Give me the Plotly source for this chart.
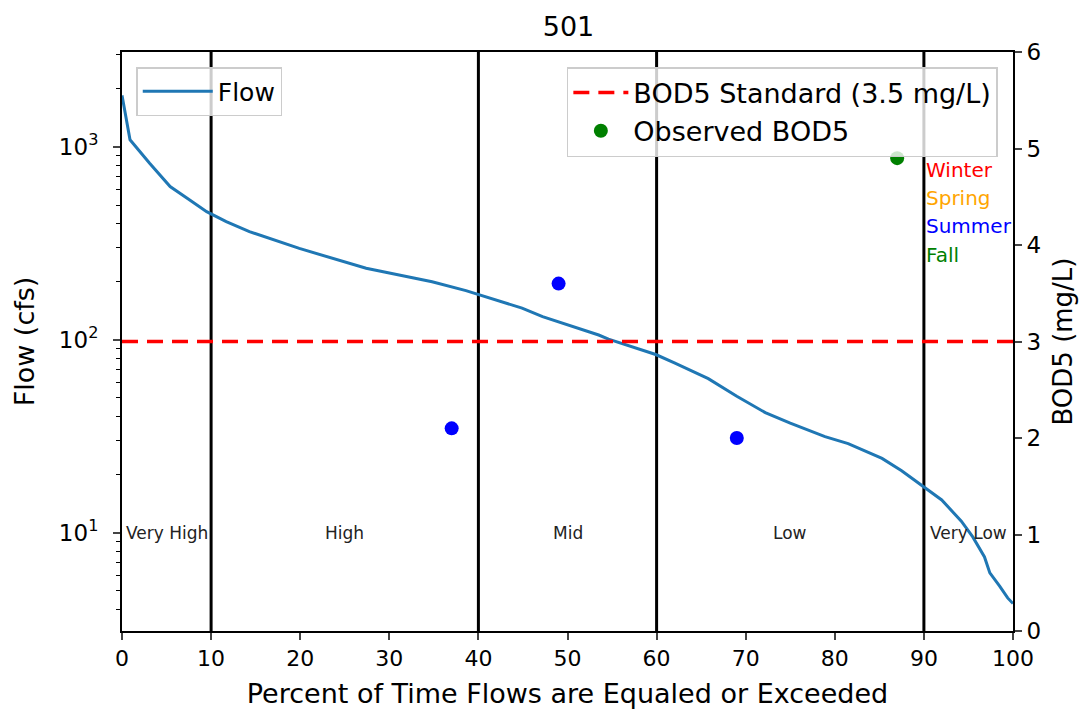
import plotly.graph_objects as go
import numpy as np

# ---- data ----
flow_pct = [0, 0.9, 3.1, 5.4, 7.6, 9.5, 11.7, 14.3, 19.9, 23.6, 27.4, 31.1, 34.8, 38.6, 40.0,
            44.9, 47.2, 49.0, 51.0, 53.5, 54.6, 57.0, 59.9, 62.0, 65.8, 69.0, 72.2, 75.0,
            78.9, 81.5, 85.3, 87.5, 89.4, 92.0, 94.2, 95.5, 96.8, 97.4, 98.5, 99.4, 100]
flow_cfs = [1850, 1090, 824, 623, 531, 462, 410, 364, 298, 265, 235, 217, 200, 180, 172,
            146, 132, 124, 116, 106, 101, 93, 84, 76, 63, 51, 42, 37,
            31.5, 29, 24.3, 21, 18.1, 14.8, 11.5, 9.5, 7.5, 6.2, 5.3, 4.6, 4.3]

obs_pct = [87, 37, 49, 69]
obs_bod = [4.9, 2.1, 3.6, 2.0]
obs_season = ["Fall", "Summer", "Summer", "Summer"]

standard_drawn = 3.0
standard_label = "BOD5 Standard (3.5 mg/L)"

class_breaks = [10, 40, 60, 90]
class_names = ["Very High", "High", "Mid", "Low", "Very Low"]
class_centers = [5, 25, 50, 75, 95]
class_label_flow = 10

season_names = ["Winter", "Spring", "Summer", "Fall"]
season_colors = {"Winter": "red", "Spring": "orange", "Summer": "blue", "Fall": "green"}
season_label_y = [4.78, 4.49, 4.2, 3.9]
season_label_x = 90

FONT = "DejaVu Sans"

fig = go.Figure()

fig.add_trace(go.Scatter(x=flow_pct, y=flow_cfs, mode="lines", name="Flow", showlegend=True,
                         line=dict(color="#1f77b4", width=3), legend="legend"))

fig.add_trace(go.Scatter(x=[0, 100], y=[standard_drawn, standard_drawn], mode="lines",
                         name=standard_label, yaxis="y2", showlegend=True,
                         line=dict(color="red", width=3.5, dash="16px,9px"), legend="legend2"))

fig.add_trace(go.Scatter(x=obs_pct, y=obs_bod, mode="markers", name="Observed BOD5", yaxis="y2",
                         showlegend=True,
                         marker=dict(size=14, color=[season_colors[s] for s in obs_season]),
                         legend="legend2"))

for b in class_breaks:
    fig.add_shape(type="line", xref="x", yref="paper", x0=b, x1=b, y0=0, y1=1,
                  line=dict(color="black", width=3), layer="below")

for name, cx in zip(class_names, class_centers):
    fig.add_annotation(x=cx, y=np.log10(class_label_flow), xref="x", yref="y", text=name,
                       showarrow=False, font=dict(family=FONT, size=17, color="#222"))

for name, sy in zip(season_names, season_label_y):
    fig.add_annotation(x=season_label_x, y=sy, xref="x", yref="y2", text=name, xanchor="left",
                       showarrow=False, font=dict(family=FONT, size=20, color=season_colors[name]))

minor_vals = [m * 10 ** e for e in range(0, 4) for m in range(2, 10)]
minor_vals = [v for v in minor_vals if 3.1 <= v <= 3105]

fig.update_layout(
    width=1085, height=717,
    margin=dict(l=122, r=70, t=52, b=86),
    paper_bgcolor="white", plot_bgcolor="white",
    showlegend=True,
    font=dict(family=FONT, size=22, color="black"),
    title=dict(text="501", x=0.524, xanchor="center", y=1 - 27 / 717, yanchor="middle",
               yref="container", font=dict(family=FONT, size=27)),
    xaxis=dict(range=[0, 100], tickvals=list(range(0, 101, 10)), showline=True, linecolor="black",
               linewidth=2, mirror=True, ticks="outside", ticklen=7, tickwidth=1.5,
               showgrid=False, zeroline=False, tickfont=dict(size=22),
               title=dict(text="Percent of Time Flows are Equaled or Exceeded",
                          font=dict(size=27), standoff=14)),
    yaxis=dict(type="log", range=[np.log10(3.1), np.log10(3105)], showline=True, linecolor="black",
               linewidth=2, ticks="outside", ticklen=7, tickwidth=1.5, showgrid=False, zeroline=False,
               tickvals=[10, 100, 1000], ticktext=["10<sup>1</sup>", "10<sup>2</sup>", "10<sup>3</sup>"],
               tickfont=dict(size=23), ticklabelstandoff=10,
               minor=dict(ticks="outside", ticklen=4, tickwidth=1, tickcolor="black",
                          tickvals=minor_vals, showgrid=False),
               title=dict(text="Flow (cfs)", font=dict(size=27), standoff=16)),
    yaxis2=dict(range=[0, 6], overlaying="y", side="right", showline=True, linecolor="black",
                linewidth=2, ticks="outside", ticklen=7, tickwidth=1.5, showgrid=False, zeroline=False,
                tickvals=list(range(0, 7)), tickfont=dict(size=23),
                title=dict(text="BOD5 (mg/L)", font=dict(size=26), standoff=14)),
    legend=dict(x=0.016, y=0.974, xanchor="left", yanchor="top", bgcolor="rgba(255,255,255,0.8)",
                bordercolor="#cccccc", borderwidth=1.5, font=dict(size=25), itemwidth=70),
    legend2=dict(x=0.983, y=0.974, xanchor="right", yanchor="top", bgcolor="rgba(255,255,255,0.8)",
                 bordercolor="#cccccc", borderwidth=1.5, font=dict(size=27), itemwidth=55),
)

fig.write_html("out.html")
